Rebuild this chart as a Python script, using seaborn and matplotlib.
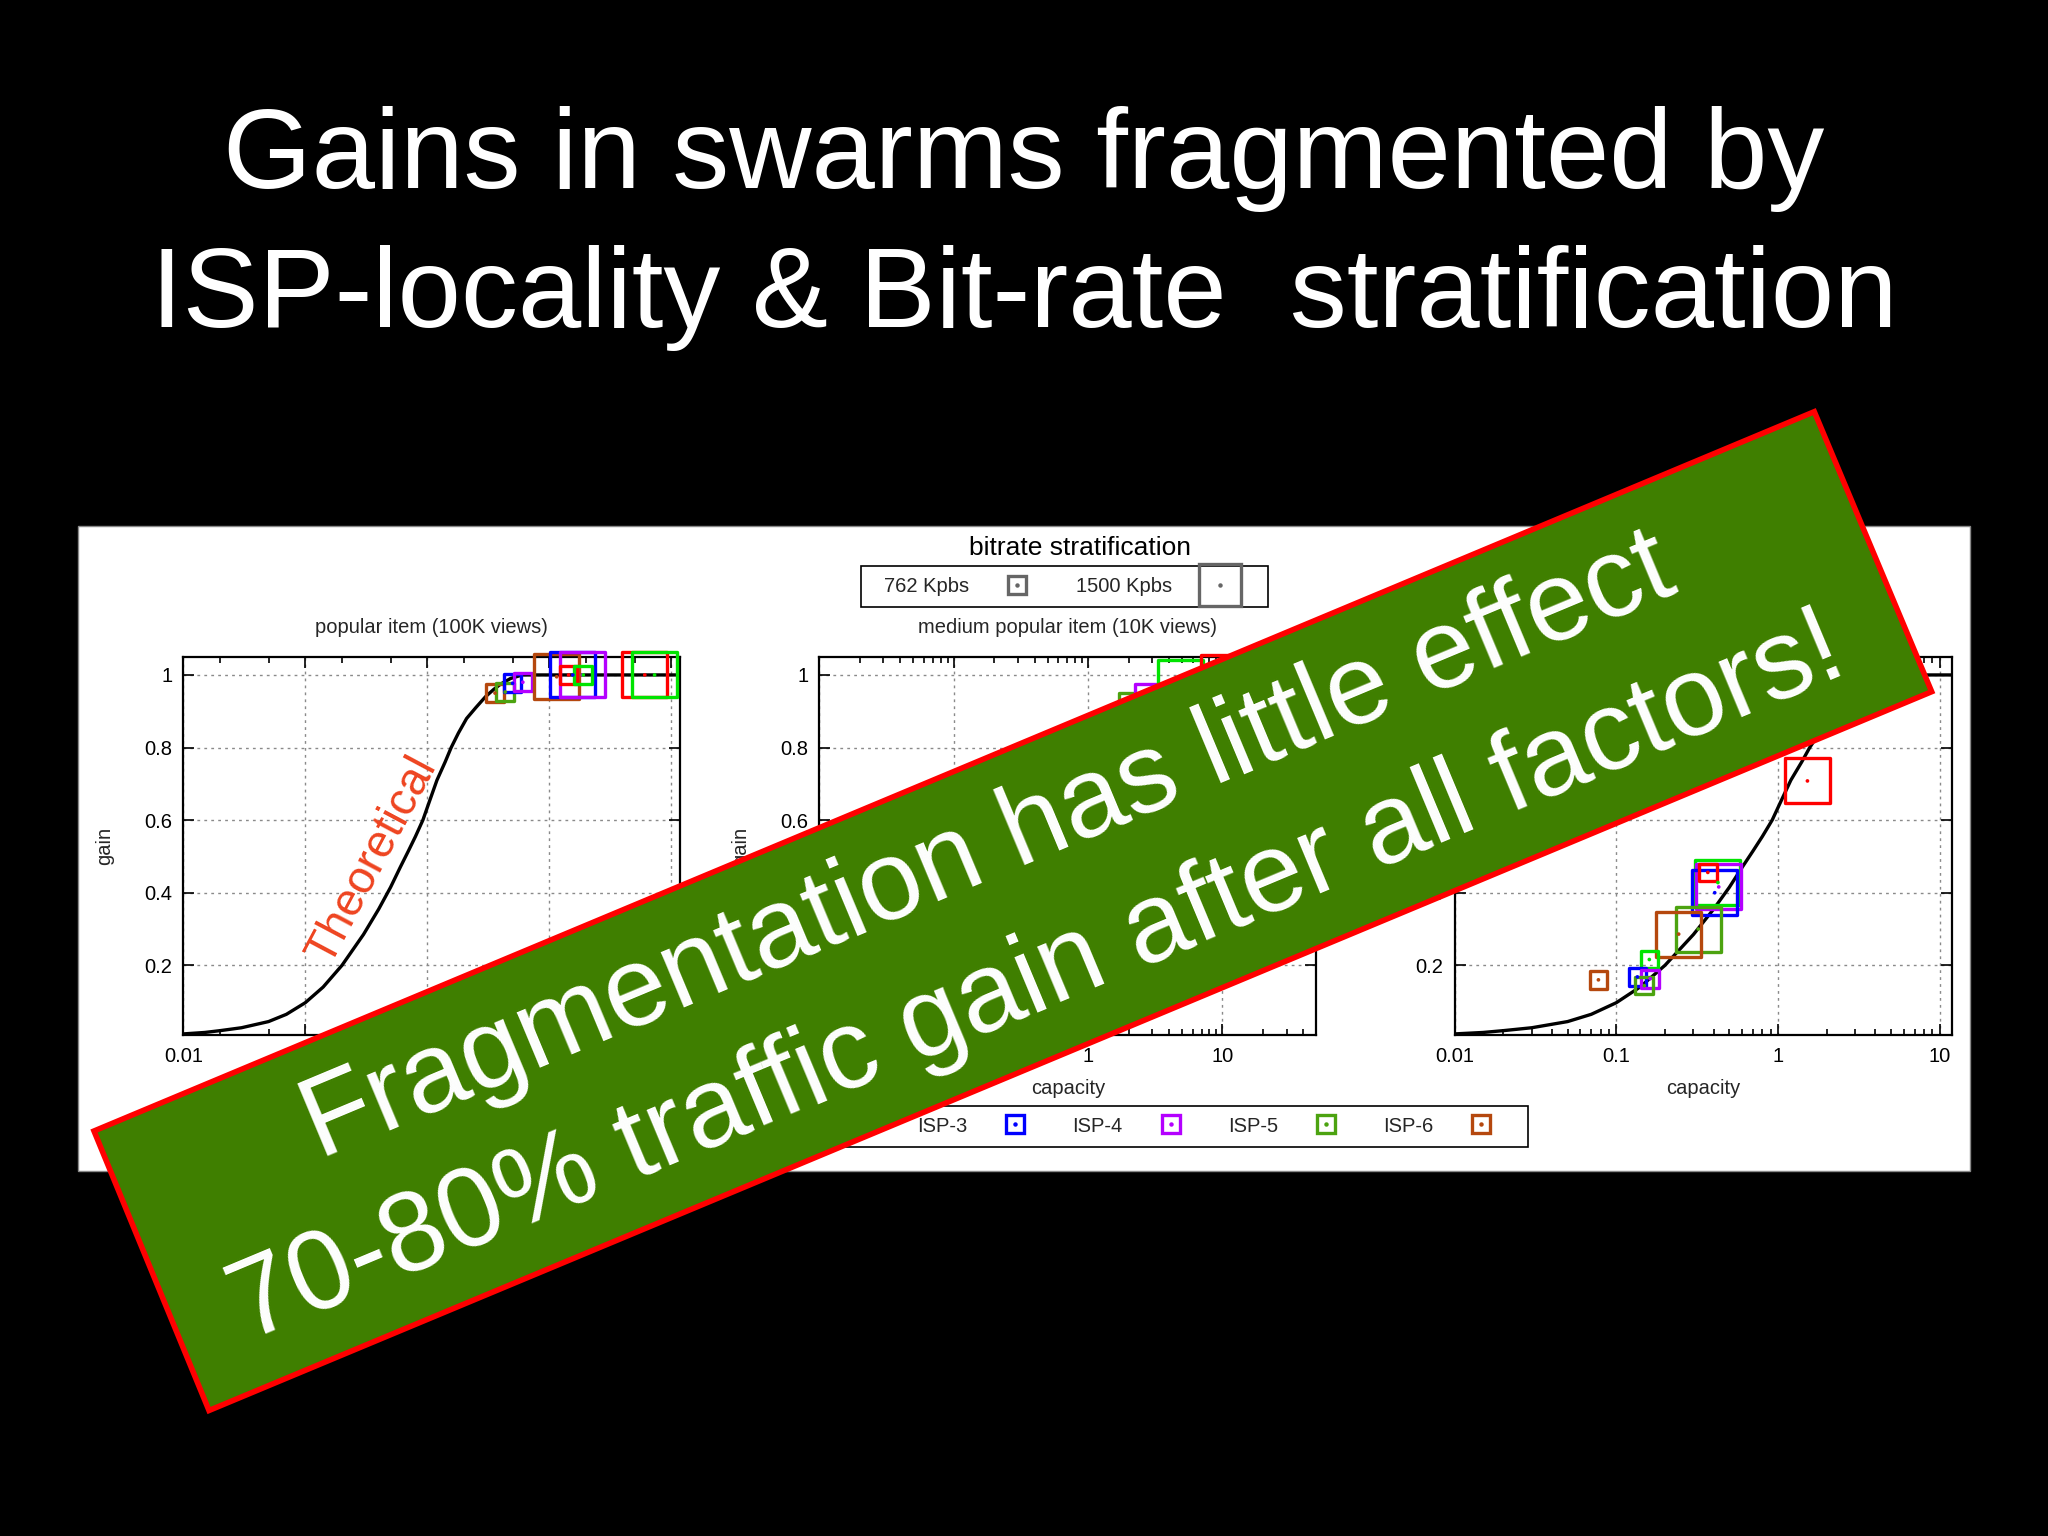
import numpy as np
import pandas as pd
import matplotlib
matplotlib.use("Agg")
import matplotlib.pyplot as plt
from matplotlib.lines import Line2D
from matplotlib.patches import Rectangle, Polygon
from matplotlib.ticker import LogLocator, NullFormatter
import seaborn as sns

# theoretical gain curve
theory_cap = [0.01, 0.015, 0.02, 0.03, 0.05, 0.07, 0.1, 0.14, 0.2, 0.3, 0.4, 0.5, 0.6, 0.7,
              0.8, 0.92, 1.05, 1.2, 1.4, 1.57, 1.8, 2.1, 2.5, 3.0, 3.5, 4.0, 4.8, 6.0, 120]
theory_gain = [0.011, 0.015, 0.02, 0.028, 0.045, 0.065, 0.097, 0.14, 0.2, 0.285, 0.355, 0.415,
               0.47, 0.515, 0.555, 0.6, 0.655, 0.71, 0.76, 0.8, 0.84, 0.88, 0.91, 0.94, 0.96,
               0.975, 0.99, 1.0, 1.0]

isp_names = ["ISP-1", "ISP-2", "ISP-3", "ISP-4", "ISP-5", "ISP-6"]
isp_colors = ["#ff0000", "#00e400", "#0000ff", "#b400ff", "#4ca310", "#b5480e"]
bitrates = ["762 Kpbs", "1500 Kpbs"]

# popular item (100K views)
pop_isp = ["ISP-6", "ISP-5", "ISP-3", "ISP-4", "ISP-6", "ISP-3", "ISP-4", "ISP-1", "ISP-2", "ISP-1", "ISP-2"]
pop_rate = ["762 Kpbs", "762 Kpbs", "762 Kpbs", "762 Kpbs", "1500 Kpbs", "1500 Kpbs", "1500 Kpbs",
            "762 Kpbs", "762 Kpbs", "1500 Kpbs", "1500 Kpbs"]
pop_cap = [3.59, 4.35, 5.0, 6.07, 11.5, 15.6, 18.7, 14.4, 19.0, 60.7, 73.0]
pop_gain = [0.95, 0.953, 0.977, 0.98, 0.995, 1.0, 1.0, 1.0, 1.0, 1.0, 1.0]

# medium popular item (10K views) - only the visible points
med_isp = ["ISP-5", "ISP-4", "ISP-2", "ISP-1"]
med_rate = ["1500 Kpbs", "1500 Kpbs", "1500 Kpbs", "1500 Kpbs"]
med_cap = [2.5, 3.27, 4.87, 10.2]
med_gain = [0.887, 0.914, 0.978, 0.993]

# third panel (less popular item)
low_isp = ["ISP-1", "ISP-2", "ISP-4", "ISP-3", "ISP-1", "ISP-5", "ISP-6",
           "ISP-2", "ISP-3", "ISP-4", "ISP-5", "ISP-6"]
low_rate = ["1500 Kpbs"] * 4 + ["762 Kpbs"] + ["1500 Kpbs"] * 2 + ["762 Kpbs"] * 5
low_cap = [1.52, 0.425, 0.43, 0.406, 0.368, 0.321, 0.243, 0.16, 0.135, 0.162, 0.149, 0.0775]
low_gain = [0.708, 0.428, 0.416, 0.40, 0.456, 0.30, 0.286, 0.216, 0.168, 0.163, 0.144, 0.16]

panel_titles = ["popular item (100K views)", "medium popular item (10K views)", None]
panel_xmax = [118.6, 49.9, 11.84]
panel_xticks = [[0.01, 0.1, 1, 10, 100], [0.01, 0.1, 1, 10], [0.01, 0.1, 1, 10]]
panel_minor = [[2.0, 5.0], list(np.arange(2, 10)), list(np.arange(2, 10))]

sns.set_style("ticks")
plt.rcParams["font.family"] = ["Liberation Sans", "DejaVu Sans"]
plt.rcParams["font.size"] = 14.5

W, H = 2048, 1536
fig = plt.figure(figsize=(W / 100, H / 100), dpi=100, facecolor="black")

def fx(px):
    return px / W

def fy(py):
    return 1 - py / H

# white plot panel
fig.add_artist(Rectangle((fx(78), fy(1171)), fx(1970) - fx(78), fy(526) - fy(1171),
                         transform=fig.transFigure, facecolor="white", edgecolor="#888888",
                         lw=1, zorder=-1))

palette = dict(zip(isp_names, isp_colors))
size_map = {"762 Kpbs": 12.7 ** 2, "1500 Kpbs": 32.4 ** 2}

frames = [
    pd.DataFrame({"isp": pop_isp, "bitrate": pop_rate, "capacity": pop_cap, "gain": pop_gain}),
    pd.DataFrame({"isp": med_isp, "bitrate": med_rate, "capacity": med_cap, "gain": med_gain}),
    pd.DataFrame({"isp": low_isp, "bitrate": low_rate, "capacity": low_cap, "gain": low_gain}),
]
ax_left = [183.3, 819.3, 1454.6]

for i, d in enumerate(frames):
    ax = fig.add_axes([fx(ax_left[i]), fy(1035), fx(497), 378.2 / H])
    ax.set_facecolor("white")
    ax.set_xscale("log")
    sns.lineplot(x=theory_cap, y=theory_gain, ax=ax, color="black", lw=2.4, zorder=3)
    sns.scatterplot(data=d, x="capacity", y="gain", hue="isp", palette=palette,
                    size="bitrate", sizes=size_map, marker="s", linewidth=2.4,
                    legend=False, ax=ax, zorder=4)
    sq = ax.collections[-1]
    sq.set_edgecolors(sq.get_facecolors())
    sq.set_facecolors("none")
    sq.set_clip_on(False)
    sns.scatterplot(data=d, x="capacity", y="gain", hue="isp", palette=palette,
                    s=7, marker="o", linewidth=0, legend=False, ax=ax, zorder=5)

    ax.set_xlim(0.01, panel_xmax[i])
    ax.set_ylim(0.008, 1.05)
    ax.set_xticks(panel_xticks[i], [f"{t:g}" for t in panel_xticks[i]])
    ax.set_yticks([0.2, 0.4, 0.6, 0.8, 1.0], ["0.2", "0.4", "0.6", "0.8", "1"])
    ax.xaxis.set_minor_locator(LogLocator(base=10, subs=panel_minor[i], numticks=30))
    ax.xaxis.set_minor_formatter(NullFormatter())
    ax.tick_params(which="both", direction="in", top=True, right=True, width=1.2,
                   colors="black", labelsize=14.5)
    ax.tick_params(which="major", length=8)
    ax.tick_params(which="minor", length=4)
    ax.tick_params(axis="x", pad=9)
    ax.tick_params(axis="y", pad=8)
    ax.grid(True, which="major", color="#8a8a8a", linestyle=(0, (2, 3)), lw=1)
    for sp in ax.spines.values():
        sp.set_color("black")
        sp.set_linewidth(1.6)
    ax.set_xlabel("capacity", fontsize=14.5, labelpad=9)
    ax.set_ylabel("gain", fontsize=14.5, labelpad=22)
    if panel_titles[i]:
        ax.set_title(panel_titles[i], fontsize=14.5, pad=17)
    if i == 0:
        ax.text(0.36, 0.49, "Theoretical", rotation=62, color="#ee4420", fontsize=33,
                ha="center", va="center", rotation_mode="anchor", zorder=6)

# bitrate legend
gray = "#666666"
rate_handles = [
    (Line2D([], [], marker="s", ms=12.7, mfc="none", mec=gray, mew=2.4, ls="none"),
     Line2D([], [], marker="o", ms=2.2, mfc=gray, mec=gray, ls="none")),
    (Line2D([], [], marker="s", ms=30, mfc="none", mec=gray, mew=2.4, ls="none"),
     Line2D([], [], marker="o", ms=2.2, mfc=gray, mec=gray, ls="none")),
]
fig.add_artist(Rectangle((fx(860.7), fy(607.3)), fx(407.6), 41.3 / H, transform=fig.transFigure,
                         facecolor="none", edgecolor="black", lw=1.2, zorder=2))
fig.legend(rate_handles, bitrates, ncol=2, frameon=False, markerfirst=False, fontsize=14.5,
           handlelength=2, handletextpad=1.35, columnspacing=1.95, borderpad=0,
           loc="center", bbox_to_anchor=(fx(1062), fy(586.5)))
fig.text(fx(1080), fy(548), "bitrate stratification", fontsize=19, color="black",
         ha="center", va="center")

# ISP legend
isp_handles = [
    (Line2D([], [], marker="s", ms=12.7, mfc="none", mec=c, mew=2.4, ls="none"),
     Line2D([], [], marker="o", ms=2.2, mfc=c, mec=c, ls="none"))
    for c in isp_colors
]
fig.add_artist(Rectangle((fx(574), fy(1147)), fx(1527.7 - 574), 41.3 / H, transform=fig.transFigure,
                         facecolor="none", edgecolor="black", lw=1.2, zorder=2))
fig.legend(isp_handles, isp_names, ncol=6, frameon=False, markerfirst=False, fontsize=14.5,
           handlelength=2, handletextpad=1.4, columnspacing=1.82, borderpad=0,
           loc="center", bbox_to_anchor=(fx(1054), fy(1126)))

# slide title
fig.text(0.5, fy(159), "Gains in swarms fragmented by", color="white", fontsize=82,
         ha="center", va="center")
fig.text(0.5, fy(298), "ISP-locality & Bit-rate  stratification", color="white", fontsize=82,
         ha="center", va="center")

# green banner
corners = [(fx(94), fy(1131)), (fx(1814.3), fy(411.7)), (fx(1931.7), fy(691.7)), (fx(209), fy(1410.5))]
fig.add_artist(Polygon(corners, closed=True, transform=fig.transFigure, facecolor="#3f7f00",
                       edgecolor="#ff0000", lw=4, zorder=10))
ang = np.degrees(np.arctan2(719.3, 1720.3))
fig.text(fx(989), fy(849), "Fragmentation has little effect", color="white", fontsize=81,
         rotation=ang, rotation_mode="anchor", ha="center", va="center", zorder=11)
fig.text(fx(1038), fy(980), "70-80% traffic gain after all factors!", color="white", fontsize=81,
         rotation=ang, rotation_mode="anchor", ha="center", va="center", zorder=11)

fig.savefig("out.png", dpi=100, facecolor="black")
